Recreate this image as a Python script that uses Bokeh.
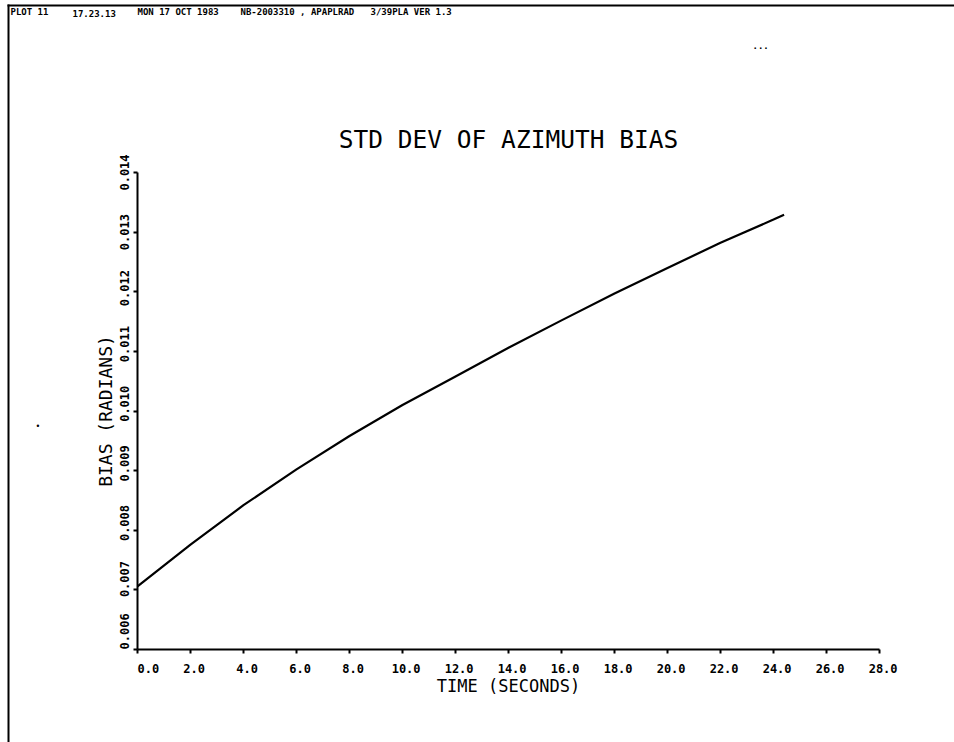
from bokeh.plotting import figure
from bokeh.models import Range1d, FixedTicker, NumeralTickFormatter, Label, BoxAnnotation
from bokeh.embed import file_html
from bokeh.resources import INLINE

# Standard deviation of the azimuth bias over time
time_s = [0.0, 2.0, 4.0, 6.0, 8.0, 10.0, 12.0, 14.0, 16.0, 18.0, 20.0, 22.0, 24.0, 24.4]
bias_std = [0.00706, 0.00776, 0.00842, 0.00902, 0.00958, 0.01010, 0.01058,
            0.01106, 0.01152, 0.01197, 0.01240, 0.01282, 0.01321, 0.01329]

x_ticks = [0, 2, 4, 6, 8, 10, 12, 14, 16, 18, 20, 22, 24, 26, 28]
y_ticks = [0.006, 0.007, 0.008, 0.009, 0.010, 0.011, 0.012, 0.013, 0.014]
x_bounds = (0, 28)
y_bounds = (0.006, 0.014)

title_text = "STD DEV OF AZIMUTH BIAS"
header_parts = ["PLOT 11", "17.23.13", "MON 17 OCT 1983", "NB-2003310 , APAPLRAD", "3/39PLA VER 1.3"]

FONT = "DejaVu Sans Mono"
NB = "\u00a0"
W, H = 954, 742

# the whole sheet is the plotting frame; the axes sit at fixed places inside it
AX_LEFT, AX_RIGHT = 137.0, 879.0      # canvas x of t=0 and t=28
AX_TOP, AX_BOTTOM = 172.0, 649.0      # canvas y of 0.014 and 0.006
kx = (AX_RIGHT - AX_LEFT) / (x_bounds[1] - x_bounds[0])
ky = (AX_BOTTOM - AX_TOP) / (y_bounds[1] - y_bounds[0])
x_range = Range1d(x_bounds[0] - AX_LEFT / kx, x_bounds[1] + (W - AX_RIGHT) / kx)
y_range = Range1d(y_bounds[0] - (H - AX_BOTTOM) / ky, y_bounds[1] + AX_TOP / ky)

p = figure(width=W, height=H, output_backend="svg", toolbar_location=None,
           x_range=x_range, y_range=y_range,
           min_border=0, min_border_left=0, min_border_right=0,
           min_border_top=0, min_border_bottom=0)
p.title.visible = False
p.outline_line_color = None
p.background_fill_color = "white"
p.border_fill_color = "white"
p.xgrid.visible = False
p.ygrid.visible = False

for ax in (p.xaxis[0], p.yaxis[0]):
    ax.axis_line_width = 2
    ax.axis_line_color = "black"
    ax.major_tick_line_width = 2
    ax.major_tick_line_color = "black"
    ax.major_tick_in = 0
    ax.major_tick_out = 4
    ax.minor_tick_line_color = None
    ax.major_label_text_font = FONT
    ax.major_label_text_font_style = "bold"
    ax.major_label_text_font_size = "12px"
    ax.major_label_text_color = "black"
    ax.axis_label_text_font = FONT
    ax.axis_label_text_font_style = "normal"
    ax.axis_label_text_font_size = "17px"
    ax.axis_label_text_color = "black"

xa = p.xaxis[0]
xa.fixed_location = y_bounds[0]
xa.bounds = x_bounds
xa.ticker = FixedTicker(ticks=x_ticks)
xa.formatter = NumeralTickFormatter(format="0.0")
# labels sit a little to the right of their ticks; the first one starts at the axis
xa.major_label_overrides = {t: (NB * (3 if t == 0 else 1)) + f"{t:.1f}" for t in x_ticks}
xa.axis_label = "TIME (SECONDS)"
xa.major_label_standoff = 8
xa.axis_label_standoff = -3

ya = p.yaxis[0]
ya.fixed_location = x_bounds[0]
ya.bounds = y_bounds
ya.ticker = FixedTicker(ticks=y_ticks)
ya.formatter = NumeralTickFormatter(format="0.000")
# lower labels ride above their ticks so the first one clears the x axis
y_shift = [5, 3, 2, 2, 2, 2, 1, 0, 0]
ya.major_label_overrides = {t: (NB * s) + f"{t:.3f}" for t, s in zip(y_ticks, y_shift)}
ya.axis_label = "BIAS (RADIANS)"
ya.major_label_orientation = "parallel"
ya.major_label_standoff = 2
ya.axis_label_standoff = -1
ya.axis_label_text_font_size = "18px"

p.line(time_s, bias_std, line_color="black", line_width=2.2)


def sy(cy):
    # screen units count upward from the bottom of the frame
    return H - cy


p.add_layout(Label(x=(x_bounds[0] + x_bounds[1]) / 2, y=sy(139), y_units="screen",
                   text=title_text, text_font=FONT, text_font_size="24.5px",
                   text_color="black", text_align="center", text_baseline="alphabetic"))

# page frame of the plotter sheet
p.add_layout(BoxAnnotation(left=7, right=9, top=sy(4), bottom=sy(742),
                           left_units="screen", right_units="screen",
                           top_units="screen", bottom_units="screen",
                           fill_color="black", fill_alpha=1, line_color=None))
p.add_layout(BoxAnnotation(left=7, right=954, top=sy(4), bottom=sy(6),
                           left_units="screen", right_units="screen",
                           top_units="screen", bottom_units="screen",
                           fill_color="black", fill_alpha=1, line_color=None))

# run header along the top edge
header_x = [10, 72, 137, 240, 370]
for hx, txt in zip(header_x, header_parts):
    p.add_layout(Label(x=hx, y=sy(16), x_units="screen", y_units="screen",
                       text=txt, text_font=FONT, text_font_size="9px",
                       text_font_style="bold", text_color="black",
                       text_baseline="bottom"))

p.add_layout(Label(x=752, y=sy(48), x_units="screen", y_units="screen",
                   text="...", text_font=FONT, text_font_size="9px",
                   text_font_style="bold", text_color="black", text_baseline="bottom"))
p.add_layout(Label(x=35, y=sy(430), x_units="screen", y_units="screen",
                   text="\u2022", text_font=FONT, text_font_size="8px",
                   text_color="black", text_baseline="bottom"))

open("out.html", "w").write(file_html(p, INLINE))
